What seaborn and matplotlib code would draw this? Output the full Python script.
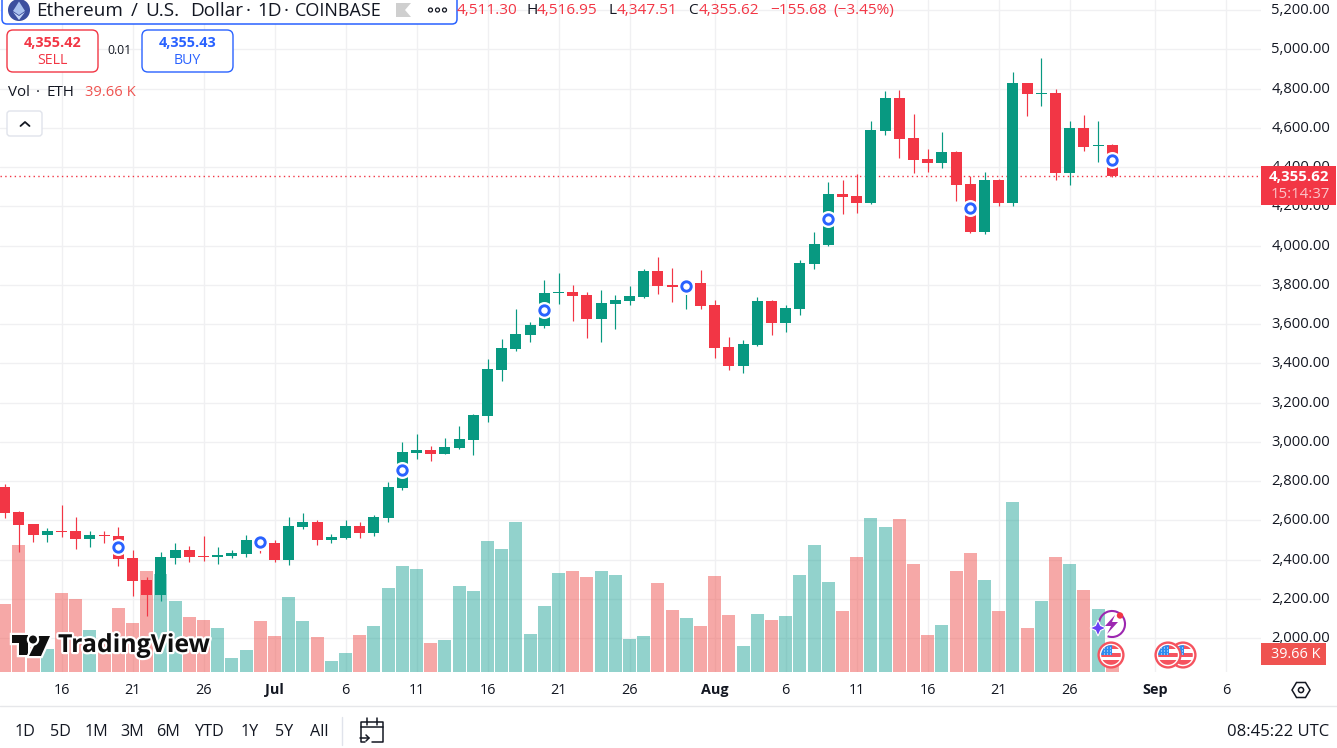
import numpy as np
import pandas as pd
import seaborn as sns
import matplotlib
matplotlib.use("Agg")
import matplotlib.pyplot as plt
import matplotlib.patheffects as pe
import matplotlib.transforms as mtransforms
from matplotlib.patches import Circle, FancyBboxPatch, Polygon, Rectangle, Arc
from matplotlib.ticker import FuncFormatter

# Daily ETH/USD candles, 12 June to 29 August
START = "2025-06-12"
opens = [2769, 2642, 2581, 2527, 2545, 2545, 2506, 2527, 2520, 2408, 2296, 2221, 2408, 2448, 2418, 2413, 2418, 2428, 2499,
         2484, 2398, 2566, 2591, 2499, 2510, 2571, 2535, 2611, 2764, 2943, 2958, 2938, 2968, 3009, 3131, 3366, 3473, 3544,
         3590, 3758, 3763, 3748, 3626, 3702, 3717, 3738, 3870, 3799, 3789, 3809,
         3697, 3483, 3386, 3493, 3717, 3605, 3677, 3906, 4003, 4263, 4252, 4217, 4584, 4752, 4548, 4441, 4421, 4477, 4313,
         4069, 4334, 4217, 4828, 4772, 4777, 4370, 4599, 4507, 4511.30]
highs = [2785, 2647, 2581, 2559, 2678, 2617, 2545, 2547, 2566, 2448, 2311, 2438, 2484, 2469, 2520, 2464, 2448, 2525, 2525,
         2499, 2617, 2637, 2601, 2530, 2601, 2591, 2627, 2795, 2999, 3040, 2978, 3019, 3080, 3142, 3422, 3524, 3677, 3610,
         3824, 3860, 3799, 3763, 3773, 3748, 3794, 3880, 3942, 3885, 3834, 3875,
         3722, 3534, 3519, 3738, 3722, 3697, 3926, 4069, 4324, 4334, 4365, 4635, 4787, 4793, 4670, 4492, 4579, 4482, 4354,
         4375, 4339, 4884, 4830, 4956, 4798, 4635, 4665, 4635, 4516.95]
lows = [2613, 2440, 2491, 2491, 2516, 2455, 2465, 2486, 2368, 2216, 2114, 2190, 2379, 2389, 2394, 2379, 2409, 2414, 2435,
        2389, 2374, 2555, 2475, 2486, 2505, 2510, 2520, 2591, 2754, 2912, 2902, 2938, 2963, 2932, 3101, 3310, 3463, 3509,
        3580, 3702, 3615, 3529, 3509, 3575, 3697, 3733, 3753, 3712, 3677, 3677,
        3427, 3366, 3351, 3488, 3544, 3559, 3646, 3880, 4000, 4161, 4166, 4212, 4563, 4446, 4370, 4375, 4395, 4227, 4064,
        4059, 4201, 4201, 4660, 4711, 4334, 4308, 4482, 4426, 4347.51]
closes = [2638, 2577, 2527, 2545, 2540, 2506, 2525, 2522, 2404, 2292, 2221, 2413, 2448, 2414, 2413, 2423, 2433, 2499, 2479,
          2398, 2571, 2591, 2499, 2515, 2571, 2535, 2617, 2769, 2948, 2958, 2938, 2973, 3014, 3136, 3371, 3478, 3549, 3595,
          3758, 3763, 3743, 3626, 3707, 3722, 3743, 3870, 3794, 3789, 3799, 3692,
          3478, 3386, 3498, 3717, 3605, 3682, 3911, 4008, 4263, 4247, 4217, 4589, 4752, 4543, 4436, 4421, 4477, 4308, 4069,
          4334, 4217, 4828, 4772, 4777, 4370, 4599, 4502, 4512, 4355.62]

# Traded volume in thousands of ETH
volumes = [149.6, 279.4, 55, 50.6, 173.8, 160.6, 92.4, 66, 140.8, 107.8, 222.2, 215.6, 156.2, 121, 114.4, 96.8, 30.8, 48.4, 112.2,
           79.2, 165, 112.2, 77, 24.2, 41.8, 81.4, 101.2, 184.8, 233.2, 226.6, 63.8, 70.4, 189.2, 178.2, 288.2, 270.6, 330, 83.6,
           145.2, 217.8, 222.2, 209, 222.2, 213.4, 72.6, 79.2, 195.8, 136.4, 118.8, 101.2,
           211.2, 125.4, 57.2, 127.6, 114.4, 123.2, 213.4, 279.4, 198, 134.2, 253, 338.8, 319, 336.6, 237.6, 81.4, 103.4, 222.2, 261.8,
           202.4, 134.2, 374, 96.8, 156.2, 253, 237.6, 180.4, 138.6, 39.66]

idea_dates = ["2025-06-20", "2025-06-30", "2025-07-10", "2025-07-20", "2025-07-30", "2025-08-09", "2025-08-19", "2025-08-29"]

tick_dates = ["2025-06-16", "2025-06-21", "2025-06-26", "2025-07-01", "2025-07-06", "2025-07-11", "2025-07-16", "2025-07-21",
              "2025-07-26", "2025-08-01", "2025-08-06", "2025-08-11", "2025-08-16", "2025-08-21", "2025-08-26", "2025-09-01", "2025-09-06"]
tick_labels = ["16", "21", "26", "Jul", "6", "11", "16", "21", "26", "Aug", "6", "11", "16", "21", "26", "Sep", "6"]
month_labels = ["Jul", "Aug", "Sep"]
price_ticks = [2000, 2200, 2400, 2600, 2800, 3000, 3200, 3400, 3600, 3800, 4000, 4200, 4400, 4600, 4800, 5000, 5200]

range_labels = ["1D", "5D", "1M", "3M", "6M", "YTD", "1Y", "5Y", "All"]
range_x = [25, 60, 96, 132, 168, 210, 250, 284, 319]

UP, DOWN = "#089981", "#F23645"
VOL_UP, VOL_DOWN = "#26A69A", "#EF5350"
BLUE = "#2962FF"
GRID = "#F0F0F2"
INK = "#131722"

sns.set_theme(style="white")
plt.rcParams["font.family"] = ["Open Sans", "DejaVu Sans"]

W, H = 1337, 748
fig = plt.figure(figsize=(W / 100, H / 100), dpi=100, facecolor="white")

# The three panes share one rectangle: grid below, volume above it, candles on top
PANE_RIGHT, PANE_BOTTOM = 1261, 672
rect = [0, 1 - PANE_BOTTOM / H, PANE_RIGHT / W, PANE_BOTTOM / H]
ax_grid = fig.add_axes(rect, zorder=1)
ax_vol = fig.add_axes(rect, zorder=2)
ax = fig.add_axes(rect, zorder=3)

start = pd.Timestamp(START)
day = np.arange(len(opens))
o, h, l, c = map(np.array, (opens, highs, lows, closes))
rising = c >= o
ticks = [(pd.Timestamp(d) - start).days for d in tick_dates]

xlim = (-0.331, 88.47)
price_lim = (1827, 5251)
vol_lim = (0, 1478.4)

for a in (ax_grid, ax_vol, ax):
    a.set_xlim(xlim)
    a.patch.set_visible(False)
    for s in a.spines.values():
        s.set_visible(False)
ax_grid.patch.set_visible(True)
ax_grid.set_facecolor("white")

ax_grid.set_ylim(price_lim)
ax_grid.set_xticks(ticks)
ax_grid.set_yticks(price_ticks)
ax_grid.set_xticklabels([])
ax_grid.set_yticklabels([])
ax_grid.tick_params(length=0)
ax_grid.grid(True, color=GRID, lw=1.0)

# Volume histogram
vol_df = pd.DataFrame({"day": day, "vol": volumes, "dir": np.where(rising, "up", "down")})
sns.barplot(data=vol_df, x="day", y="vol", hue="dir", hue_order=["up", "down"],
            palette={"up": VOL_UP, "down": VOL_DOWN}, native_scale=True, dodge=False,
            width=0.92, alpha=0.5, saturation=1, errorbar=None, legend=False, ax=ax_vol, linewidth=0)
ax_vol.set_xlim(xlim)
ax_vol.set_ylim(vol_lim)
ax_vol.set(xlabel="", ylabel="", xticks=[], yticks=[])

# Candles
colors = np.where(rising, UP, DOWN)
wicks = ax.vlines(day, l, h, colors=colors, lw=0.85, zorder=2)
wicks.set_snap(True)
ax.bar(day, np.maximum(np.abs(c - o), 3.5), bottom=np.minimum(o, c), width=0.775, color=colors, linewidth=0, zorder=3)

# Last price line
ax.axhline(closes[-1], color=DOWN, lw=1.0, ls=(0, (1, 2.4)), zorder=1)

# Idea markers sit at the middle of the candle body
idea_idx = [(pd.Timestamp(d) - start).days for d in idea_dates]
idea_df = pd.DataFrame({"day": day[idea_idx], "price": (o[idea_idx] + c[idea_idx]) / 2})
sns.scatterplot(data=idea_df, x="day", y="price", s=150, color="white", linewidth=0, ax=ax, zorder=4, legend=False)
sns.scatterplot(data=idea_df, x="day", y="price", s=46, color="white", edgecolor=BLUE, linewidth=2.1, ax=ax, zorder=5, legend=False)

ax.set_xlim(xlim)
ax.set_ylim(price_lim)
ax.set(xlabel="", ylabel="")
ax.set_xticks(ticks)
ax.set_xticklabels(tick_labels, fontsize=10.4, color=INK)
for lab, txt in zip(ax.get_xticklabels(), tick_labels):
    if txt in month_labels:
        lab.set_fontweight("bold")
ax.set_yticks(price_ticks)
ax.yaxis.tick_right()
ax.yaxis.set_major_formatter(FuncFormatter(lambda v, _: f"{v:,.2f}"))
ax.tick_params(axis="y", length=0, pad=7.5, labelsize=10.6, labelcolor=INK)
ax.tick_params(axis="x", length=0, pad=8, labelcolor=INK)

# Price labels sit slightly above their grid lines
nudge = mtransforms.ScaledTranslation(0, 1.5 / 100, fig.dpi_scale_trans)
for tick in ax.yaxis.get_major_ticks():
    tick.label2.set_transform(tick.label2.get_transform() + nudge)

# Interface elements, laid out in screen pixels
ui = fig.add_axes([0, 0, 1, 1], zorder=10)
ui.set_xlim(0, W)
ui.set_ylim(H, 0)
ui.axis("off")


def box(x0, y0, x1, y1, edge, face="white", r=5, lw=1.0, z=2):
    ui.add_patch(FancyBboxPatch((x0 + r, y0 + r), x1 - x0 - 2 * r, y1 - y0 - 2 * r,
                                boxstyle=f"round,pad={r},rounding_size={r}", fc=face, ec=edge, lw=lw, zorder=z))


def label(x, y, s, color=INK, size=10.6, ha="left", weight="normal", z=5, **kw):
    return ui.text(x, y, s, color=color, fontsize=size, ha=ha, va="center", fontweight=weight, zorder=z, **kw)


# Legend strip
box(2, -12, 457, 24, BLUE, lw=1.1)
ui.add_patch(Circle((19, 10), 11, fc="#3C4F9E", ec="none", zorder=3))
ui.add_patch(Polygon([(19, 1.5), (25, 11), (19, 15), (13, 11)], fc="#A9C1EE", ec="none", zorder=4))
ui.add_patch(Polygon([(13, 12), (19, 16), (25, 12), (19, 20)], fc="#C8D8F5", ec="none", zorder=4))
for x, s in [(36, "Ethereum"), (131, "/"), (145, "U.S."), (190, "Dollar"), (246, "·"), (257, "1D"), (284, "·")]:
    label(x, 10.5, s, size=13.6)
label(295, 10.5, "COINBASE", size=13.0)
ui.add_patch(Polygon([(396, 3), (411, 3), (405, 10), (411, 17), (396, 17)], fc="#CFCFCF", ec="none", zorder=4))
for cx in (430.5, 437.5, 444.5):
    ui.add_patch(Circle((cx, 10), 2, fc="white", ec=INK, lw=0.9, zorder=4))

for x, s, col in [(457, "4,511.30", DOWN), (526, "H", INK), (537, "4,516.95", DOWN), (608, "L", INK),
                  (617, "4,347.51", DOWN), (688, "C", INK), (699, "4,355.62", DOWN),
                  (770, "−155.68", DOWN), (833, "(−3.45%)", DOWN)]:
    label(x, 10.5, s, color=col, size=11.1)

# Order buttons
box(7, 30, 98, 72, DOWN, r=6)
label(52.5, 43, "4,355.42", color=DOWN, size=10.4, ha="center", weight="bold")
label(52.5, 60, "SELL", color=DOWN, size=10.2, ha="center")
label(120, 50.5, "0.01", size=8.8, ha="center")
box(142, 30, 233, 72, BLUE, r=6)
label(187.5, 43, "4,355.43", color=BLUE, size=10.4, ha="center", weight="bold")
label(187.5, 60, "BUY", color=BLUE, size=10.2, ha="center")

for x, s in [(8, "Vol"), (35.5, "·"), (46, "ETH")]:
    label(x, 92.5, s, size=10.9)
label(85, 92.5, "39.66 K", color=VOL_DOWN, size=10.6)
box(7, 111, 42, 136, "#E0E3EB", r=3)
ui.plot([20.5, 25, 29.5], [126, 122, 126], color=INK, lw=1.3, zorder=4)

# Price scale tags
ui.add_patch(Rectangle((1261, 166), 75, 39, fc=DOWN, ec="none", zorder=3))
label(1329.5, 176.5, "4,355.62", color="white", size=10.8, ha="right", weight="bold")
label(1329.5, 194, "15:14:37", color="#FBC4C9", size=10.8, ha="right")
ui.add_patch(Rectangle((1261, 643), 65, 21.5, fc=VOL_DOWN, ec="none", zorder=3))
label(1320, 654, "39.66 K", color="white", size=10.4, ha="right")

# Watermark
halo = [pe.withStroke(linewidth=3.2, foreground="white")]
mark = [Polygon([(12, 635), (28, 635), (28, 655), (19, 655), (19, 643), (12, 643)]),
        Polygon([(39, 636), (50, 636), (41, 656), (29, 656)]),
        Circle((33, 639.5), 4)]
for shape in mark:
    shape.set(fc="#0F0F0F", ec="none", zorder=4, path_effects=halo)
    ui.add_patch(shape)
label(58, 645.5, "TradingView", color="#0F0F0F", size=17.9, weight="bold", path_effects=halo)


# Event badges
def flag_badge(cx, cy, z):
    ring = Circle((cx, cy), 12.4, fc="white", ec="#F5535F", lw=1.7, zorder=z)
    ui.add_patch(ring)
    disc = Circle((cx, cy), 9.8, fc="white", ec="none", zorder=z + 0.1)
    ui.add_patch(disc)
    parts = [Rectangle((cx - 10, cy - 10), 20, 3.6, fc="#F5535F", ec="none"),
             Rectangle((cx - 10, cy - 2), 20, 3.6, fc="#F5535F", ec="none"),
             Rectangle((cx - 10, cy + 5.4), 20, 4.6, fc="#F5535F", ec="none"),
             Rectangle((cx - 10, cy - 10), 11, 10, fc="#2D8CF0", ec="none")]
    for p in parts:
        p.set_zorder(z + 0.2)
        ui.add_patch(p)
        p.set_clip_path(disc)
    for dx in (-7, -4, -1):
        for dy in (-7, -4, -1):
            dot = Circle((cx + dx + 0.5, cy + dy), 0.55, fc="white", ec="none", zorder=z + 0.3)
            ui.add_patch(dot)


flag_badge(1183, 655, 6)
flag_badge(1168, 655, 7)
flag_badge(1111, 655, 6)

ui.add_patch(Arc((1112, 624), 26, 26, theta1=190, theta2=470, ec="#9C27B0", lw=1.5, zorder=7))
ui.add_patch(Polygon([(1115, 615), (1105, 626), (1111, 626), (1107, 634), (1118, 622), (1112, 622)], fc="#9C27B0", ec="none", zorder=7))
ui.add_patch(Polygon([(1098, 620), (1100.5, 625.5), (1106, 628), (1100.5, 630.5), (1098, 636), (1095.5, 630.5), (1090, 628), (1095.5, 625.5)],
                     fc="#6A3FF5", ec="white", lw=0.8, zorder=8))
ui.add_patch(Circle((1120, 615.5), 3.2, fc=DOWN, ec="none", zorder=8))

# Footer
ui.plot([0, W], [706, 706], color="#E6E7EA", lw=1.0, zorder=2)
for x, s in zip(range_x, range_labels):
    label(x, 731.5, s, size=11.6, ha="center")
ui.plot([342, 342], [717, 745], color="#E0E3EB", lw=1.0, zorder=2)
label(1329, 731.5, "08:45:22 UTC", size=12.0, ha="right")

# Date-range icon
ui.plot([365, 361, 361, 383, 383, 372], [742, 742, 722, 722, 742, 742], color=INK, lw=1.1, zorder=4)
ui.plot([361, 383], [727, 727], color=INK, lw=1.1, zorder=4)
ui.plot([367, 367], [718, 725], color=INK, lw=1.1, zorder=4)
ui.plot([377, 377], [718, 725], color=INK, lw=1.1, zorder=4)
ui.plot([360, 369], [738, 738], color=INK, lw=1.1, zorder=4)
ui.plot([366, 369, 366], [735, 738, 741], color=INK, lw=1.1, zorder=4)

# Scale settings icon
ui.add_patch(Polygon([(1292, 690), (1296.5, 682.5), (1305.5, 682.5), (1310, 690), (1305.5, 697.5), (1296.5, 697.5)],
                     fc="white", ec=INK, lw=1.1, zorder=4))
ui.add_patch(Circle((1301, 690), 2.6, fc="white", ec=INK, lw=1.1, zorder=5))

fig.savefig("out.png", dpi=100, facecolor="white")
